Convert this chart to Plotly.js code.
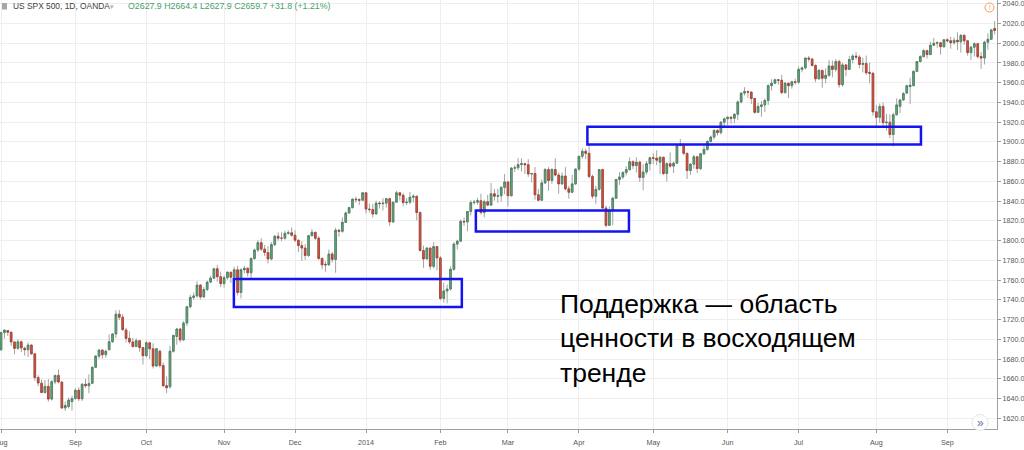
<!DOCTYPE html>
<html>
<head>
<meta charset="utf-8">
<script src="https://cdn.plot.ly/plotly-3.0.1.min.js"></script>
<style>
  html, body { margin: 0; padding: 0; background: #ffffff; }
  #chart { width: 1024px; height: 450px; }
</style>
</head>
<body>
<div id="chart"></div>
<script>
// US SPX 500 daily candles, Aug 2013 – Sep 2014 (OANDA CFD sessions)
const firstSession = '2013-08-01';
const lastSession = '2014-09-19';
const closedDays = ['2013-12-25', '2014-01-01'];
const monthLabels = ['Aug', 'Sep', 'Oct', 'Nov', 'Dec', '2014', 'Feb', 'Mar', 'Apr', 'May', 'Jun', 'Jul', 'Aug', 'Sep'];
const priceTicks = [1620, 1640, 1660, 1680, 1700, 1720, 1740, 1760, 1780, 1800, 1820, 1840, 1860, 1880, 1900, 1920, 1940, 1960, 1980, 2000, 2020, 2040];

const open = [
  // Aug 2013
  1689.5,1706.9,1708.9,1707.2,1697.4,1690.9,1697.5,1691.0,1689.5,1694.2,1685.4,1661.3,1655.5,1646.1,1652.4,1639.5,1657.0,1663.5,1656.8,1630.5,1632.0,1637.0,
  // Sep 2013
  1640.0,1648.5,1639.8,1654.5,1653.0,1655.5,1671.7,1683.0,1689.1,1684.5,1689.5,1697.6,1705.5,1725.5,1722.5,1709.5,1701.0,1697.4,1692.8,1698.7,1691.7,
  // Oct 2013
  1683.5,1696.5,1690.5,1673.0,1688.0,1673.5,1653.0,1652.0,1688.0,1703.0,1710.5,1699.5,1716.5,1733.0,1742.5,1744.0,1755.0,1743.0,1750.5,1758.0,1762.0,1771.5,1763.5,
  // Nov 2013
  1756.5,1762.5,1768.0,1763.0,1770.5,1747.5,1770.5,1772.0,1767.5,1782.0,1790.5,1798.0,1791.5,1788.0,1781.5,1796.0,1804.5,1802.5,1802.5,1807.5,1808.0,
  // Dec 2013
  1805.5,1800.5,1795.0,1792.5,1785.0,1805.0,1808.5,1802.5,1782.0,1776.0,1775.5,1786.5,1781.0,1810.5,1809.5,1818.5,1828.0,1833.5,1842.0,1841.5,1841.0,
  // Jan 2014
  1848.5,1832.0,1831.5,1827.0,1838.0,1837.5,1838.0,1842.5,1819.0,1839.0,1848.5,1846.0,1838.5,1839.0,1844.0,1845.0,1828.5,1790.0,1781.5,1792.5,1774.0,1794.0,
  // Feb 2014
  1782.5,1741.5,1749.0,1751.0,1771.0,1796.5,1799.5,1819.5,1819.0,1829.5,1838.5,1839.0,1840.5,1828.5,1839.5,1836.0,1847.5,1845.0,1845.5,1854.0,
  // Mar 2014
  1859.5,1845.5,1873.5,1873.8,1877.0,1878.0,1877.0,1867.5,1868.0,1846.5,1841.0,1858.5,1872.0,1861.0,1872.0,1866.5,1857.5,1865.5,1852.5,1849.0,1857.5,
  // Apr 2014
  1872.5,1885.5,1890.5,1888.5,1865.0,1845.0,1852.0,1872.0,1833.0,1815.5,1830.5,1843.0,1862.0,1864.5,1869.0,1872.0,1880.0,1876.0,1879.5,1864.0,1869.5,1878.0,
  // May 2014
  1884.0,1883.5,1879.5,1884.5,1868.0,1878.0,1875.5,1878.5,1896.5,1897.5,1888.5,1871.0,1877.5,1885.0,1873.0,1888.0,1892.5,1900.5,1905.0,1911.5,1909.5,1920.0,
  // Jun 2014
  1923.5,1925.0,1924.0,1928.0,1940.5,1949.5,1951.0,1950.5,1944.0,1930.0,1936.0,1937.5,1942.0,1957.0,1959.5,1963.0,1962.5,1950.0,1959.5,1957.0,1961.0,
  // Jul 2014
  1960.5,1973.5,1975.0,1985.0,1984.0,1977.5,1964.0,1972.5,1964.5,1967.5,1977.0,1973.5,1981.5,1958.0,1978.0,1973.5,1983.5,1987.0,1986.0,1978.5,1979.5,1970.5,1969.5,
  // Aug 2014
  1930.5,1925.0,1936.0,1919.5,1920.0,1907.5,1927.5,1936.0,1942.5,1949.5,1956.0,1957.0,1971.5,1981.5,1986.5,1992.5,1988.5,1998.0,2000.0,2000.5,1996.5,
  // Sep 2014
  2003.5,2002.5,2000.5,2003.0,2001.5,2008.0,2002.5,1990.5,1996.0,1999.5,1986.5,1985.0,2001.0,2004.0,2015.0
];

const high = [
  1707.8,1709.9,1709.2,1708.0,1697.5,1700.2,1699.0,1692.5,1696.8,1695.0,1685.5,1663.6,1659.2,1658.9,1659.7,1659.0,1664.0,1669.5,1656.8,1637.0,1641.0,1643.0,
  1650.5,1651.5,1655.7,1660.0,1664.5,1672.5,1684.1,1689.9,1690.0,1689.5,1704.9,1706.5,1729.4,1729.9,1725.5,1711.5,1708.0,1701.5,1701.0,1698.7,1691.9,
  1698.5,1697.5,1696.0,1691.0,1689.5,1676.5,1662.5,1693.5,1704.5,1711.5,1711.5,1718.5,1734.0,1745.0,1747.5,1759.0,1756.0,1753.0,1759.5,1764.5,1772.5,1775.5,1768.5,
  1765.0,1769.0,1768.5,1773.5,1774.5,1772.0,1774.5,1773.0,1783.0,1792.0,1800.5,1802.5,1795.5,1794.5,1798.5,1805.5,1808.5,1808.5,1810.0,1810.5,1813.5,
  1810.5,1801.0,1799.5,1796.5,1806.0,1811.5,1808.5,1804.5,1783.0,1779.0,1791.0,1788.5,1813.0,1812.0,1823.5,1829.5,1834.0,1843.0,1844.5,1843.0,1849.5,
  1849.0,1837.5,1837.0,1840.5,1840.0,1843.0,1843.5,1843.5,1839.5,1850.5,1849.0,1848.0,1843.0,1849.5,1847.0,1845.5,1829.5,1795.0,1793.5,1793.0,1798.5,1794.5,
  1784.5,1757.5,1755.5,1774.0,1798.5,1801.0,1821.5,1823.5,1830.0,1841.0,1841.5,1843.5,1847.5,1841.5,1846.5,1858.5,1852.5,1852.5,1855.0,1867.5,
  1860.0,1874.5,1876.5,1883.5,1883.5,1878.5,1882.5,1868.5,1874.5,1852.5,1862.0,1873.5,1874.5,1873.5,1883.5,1869.0,1869.0,1874.5,1855.5,1866.5,1873.0,
  1885.5,1893.5,1893.0,1897.5,1867.0,1855.5,1872.5,1873.0,1835.5,1834.5,1844.5,1862.5,1869.5,1870.5,1875.5,1884.5,1881.5,1884.5,1881.0,1877.5,1880.5,1885.0,
  1888.5,1891.5,1885.5,1885.0,1879.5,1889.5,1880.0,1897.0,1903.0,1898.5,1889.0,1878.5,1887.0,1886.0,1888.5,1896.0,1901.5,1906.5,1913.0,1913.0,1921.0,1924.5,
  1926.0,1926.5,1929.0,1942.0,1950.0,1955.5,1952.0,1951.0,1944.5,1939.5,1941.5,1944.0,1958.5,1963.5,1964.0,1963.5,1968.0,1961.0,1960.0,1962.0,1964.0,
  1976.5,1976.5,1985.5,1987.0,1985.0,1978.5,1974.0,1973.0,1974.5,1983.0,1982.5,1984.0,1983.5,1980.0,1979.0,1987.0,1989.0,1991.0,1988.0,1985.5,1987.5,1980.5,1971.0,
  1937.5,1939.0,1940.0,1928.5,1928.0,1929.5,1944.0,1943.5,1950.5,1958.0,1965.0,1972.5,1982.0,1988.0,1994.0,1993.5,2001.5,2005.5,2002.0,2000.5,2004.0,
  2005.0,2006.5,2006.0,2011.0,2009.0,2009.0,2003.5,1997.5,2001.0,2000.5,1991.0,2002.5,2010.0,2014.5,2022.5
];

const low = [
  1688.5,1700.7,1703.5,1693.6,1684.9,1689.5,1686.9,1683.5,1682.2,1684.5,1658.0,1652.6,1645.8,1645.4,1637.0,1638.0,1654.5,1655.5,1629.5,1627.5,1630.0,1627.8,
  1639.0,1637.5,1637.5,1651.0,1645.5,1655.0,1671.0,1680.5,1680.5,1681.5,1689.0,1696.5,1701.5,1719.5,1708.5,1697.0,1695.5,1691.5,1692.0,1687.5,1674.5,
  1681.5,1680.0,1670.5,1672.0,1671.5,1652.0,1645.5,1650.0,1686.5,1694.5,1697.0,1698.5,1713.5,1731.5,1740.0,1742.5,1740.5,1742.0,1749.0,1757.0,1761.0,1758.5,1753.0,
  1752.5,1760.5,1757.0,1761.5,1744.5,1741.5,1767.0,1763.5,1760.5,1780.5,1788.5,1789.5,1784.5,1777.0,1780.0,1794.5,1800.0,1799.5,1801.0,1806.0,1804.0,
  1798.5,1788.5,1779.5,1780.5,1783.5,1804.5,1800.5,1780.5,1771.0,1768.5,1774.5,1778.0,1767.5,1804.0,1808.0,1818.0,1827.5,1832.5,1838.5,1836.0,1840.5,
  1827.5,1828.5,1823.5,1826.5,1832.5,1830.5,1833.5,1815.0,1818.0,1838.5,1840.5,1835.0,1836.0,1837.0,1838.5,1820.5,1789.0,1772.5,1781.0,1770.5,1772.0,1770.0,
  1739.5,1737.5,1736.5,1749.5,1769.5,1791.0,1798.5,1815.0,1809.5,1825.5,1836.5,1836.5,1826.5,1823.5,1835.0,1835.5,1840.5,1838.5,1839.5,1847.0,
  1834.5,1845.0,1869.5,1871.5,1870.0,1867.5,1864.5,1859.0,1841.5,1839.5,1840.5,1857.5,1850.5,1857.5,1865.0,1847.5,1856.5,1851.0,1842.5,1848.5,1856.5,
  1870.5,1883.0,1882.5,1863.0,1842.5,1837.0,1850.5,1831.5,1813.5,1815.0,1815.5,1842.5,1856.5,1862.5,1866.0,1871.0,1872.5,1869.0,1859.5,1851.0,1867.0,1871.0,
  1877.5,1876.5,1867.5,1866.5,1860.0,1874.0,1868.5,1878.0,1895.5,1886.5,1862.5,1866.5,1873.0,1868.5,1871.5,1886.5,1891.0,1899.5,1902.5,1906.5,1907.5,1915.5,
  1917.0,1918.5,1919.0,1922.0,1939.0,1947.0,1944.5,1938.5,1928.5,1929.5,1925.5,1930.5,1937.5,1952.0,1958.5,1958.0,1948.5,1949.0,1944.5,1954.0,1958.0,
  1959.0,1970.5,1973.5,1981.5,1976.5,1960.5,1963.0,1955.0,1959.5,1966.0,1965.5,1971.0,1955.0,1956.0,1966.5,1973.0,1979.5,1983.5,1974.5,1970.5,1968.0,1959.5,1926.5,
  1916.0,1919.5,1914.0,1911.5,1904.0,1895.5,1927.0,1929.0,1941.5,1948.5,1938.5,1956.5,1971.0,1980.5,1985.5,1984.5,1988.0,1997.0,1995.5,1988.5,1995.5,
  2001.0,1994.5,1998.5,1993.0,1990.5,1998.5,1987.5,1983.0,1986.5,1984.5,1974.0,1978.5,1993.5,2003.5,2009.0
];

const close = [
  1706.9,1709.4,1707.2,1697.4,1690.9,1697.5,1691.4,1689.5,1694.2,1685.4,1661.3,1655.8,1646.1,1652.4,1639.5,1657.0,1663.5,1656.8,1630.5,1633.0,1638.5,1640.0,
  1648.5,1639.8,1654.5,1653.0,1655.2,1671.7,1683.0,1689.1,1684.5,1688.0,1697.6,1705.5,1725.5,1722.5,1709.9,1701.0,1697.4,1692.8,1698.7,1691.7,1683.5,
  1696.5,1690.5,1673.0,1690.5,1673.5,1653.0,1651.0,1688.0,1704.0,1710.5,1699.5,1716.5,1733.0,1742.5,1744.0,1755.0,1743.0,1750.5,1758.0,1762.0,1771.5,1763.5,1756.5,
  1762.5,1768.0,1763.0,1770.5,1747.5,1770.5,1772.0,1767.5,1782.0,1790.5,1798.0,1791.5,1788.0,1781.5,1796.0,1804.5,1802.5,1802.5,1807.5,1808.0,1805.5,
  1800.5,1795.0,1792.5,1785.0,1805.0,1808.5,1802.5,1782.0,1775.5,1775.5,1786.5,1781.0,1810.5,1809.5,1818.5,1828.0,1833.5,1842.0,1841.5,1841.0,1848.5,
  1832.0,1831.5,1827.0,1838.0,1837.5,1838.0,1842.5,1819.0,1839.0,1848.5,1846.0,1838.5,1839.0,1844.0,1845.0,1828.5,1790.0,1781.5,1792.5,1774.0,1794.0,1782.5,
  1741.5,1749.0,1751.0,1771.0,1796.5,1799.5,1819.5,1819.0,1829.5,1838.5,1839.0,1840.5,1828.5,1839.5,1836.0,1847.5,1845.0,1845.5,1854.0,1859.5,
  1845.5,1873.5,1873.8,1877.0,1878.0,1877.0,1867.5,1868.0,1846.5,1841.0,1858.5,1872.0,1861.0,1872.0,1866.5,1857.5,1865.5,1852.5,1849.0,1857.5,1872.5,
  1885.5,1890.5,1888.5,1865.0,1845.0,1852.0,1872.0,1833.0,1815.5,1830.5,1843.0,1862.0,1864.5,1869.0,1872.0,1880.0,1876.0,1879.5,1864.0,1869.5,1878.0,1884.0,
  1883.5,1881.5,1884.5,1868.0,1878.0,1875.5,1878.5,1896.5,1897.5,1888.5,1871.0,1877.5,1885.0,1873.0,1888.0,1892.5,1900.5,1905.0,1911.5,1909.5,1920.0,1923.5,
  1925.0,1924.0,1928.0,1940.5,1949.5,1951.0,1950.5,1944.0,1930.0,1936.0,1937.5,1942.0,1957.0,1959.5,1963.0,1962.5,1950.0,1959.5,1957.0,1961.0,1960.5,
  1973.5,1975.0,1985.0,1984.0,1977.5,1964.0,1972.5,1964.5,1967.5,1977.0,1973.5,1981.5,1958.0,1978.0,1973.5,1983.5,1987.0,1986.0,1978.5,1979.5,1970.0,1969.5,1930.5,
  1925.0,1936.0,1919.5,1920.0,1907.5,1927.5,1937.5,1942.5,1949.0,1957.0,1957.5,1971.5,1981.5,1986.5,1992.5,1988.5,1998.0,2000.0,2000.5,1996.5,2003.5,
  2002.5,2000.5,2003.0,2001.5,2008.0,2002.5,1990.5,1996.0,1999.5,1986.5,1985.0,2001.0,2004.0,2013.5,2013.0
];

// Support zones: session span and price band
const zoneFrom = ['2013-11-05 21:36', '2014-02-17 12:00', '2014-04-03 12:00'];
const zoneTo   = ['2014-02-11 08:24', '2014-04-21 19:12', '2014-08-20 04:48'];
const zoneLow  = [1732.8, 1809.3, 1897.3];
const zoneHigh = [1761.2, 1830.6, 1915.5];

const headerTitle = 'US SPX 500, 1D, OANDA';
const headerQuote = 'O2627.9 H2664.4 L2627.9 C2659.7 +31.8 (+1.21%)';
const noteText = 'Поддержка — область<br>ценности в восходящем<br>тренде';

// Trading sessions: weekdays without the closed holidays
const sessions = [];
for (let t = Date.parse(firstSession + 'T00:00:00Z'); t <= Date.parse(lastSession + 'T00:00:00Z'); t += 86400000) {
  const d = new Date(t);
  const wd = d.getUTCDay();
  const s = d.toISOString().slice(0, 10);
  if (wd === 0 || wd === 6 || closedDays.includes(s)) continue;
  sessions.push(s);
}
const monthStarts = sessions.filter((s, i) => i === 0 || s.slice(0, 7) !== sessions[i - 1].slice(0, 7));

const bodyTop = open.map((o, i) => Math.max(o, close[i]));
const bodyBottom = open.map((o, i) => Math.min(o, close[i]));

const W = 1024, H = 450;
const M = { l: 0, r: 27, t: 0, b: 21 };
const PW = W - M.l - M.r, PH = H - M.t - M.b;
const px = x => x / PW;
const py = y => 1 - y / PH;

const wicks = {
  type: 'candlestick', x: sessions, open: open, high: high, low: low, close: close,
  increasing: { line: { color: '#a3a3a3', width: 1 }, fillcolor: '#a3a3a3' },
  decreasing: { line: { color: '#a3a3a3', width: 1 }, fillcolor: '#a3a3a3' },
  whiskerwidth: 0, hoverinfo: 'skip', showlegend: false
};
const bodies = {
  type: 'candlestick', x: sessions, open: open, high: bodyTop, low: bodyBottom, close: close,
  increasing: { line: { color: '#3f7d58', width: 0.7 }, fillcolor: '#6ba583' },
  decreasing: { line: { color: '#a5392b', width: 0.7 }, fillcolor: '#d75442' },
  whiskerwidth: 0, hoverinfo: 'skip', showlegend: false
};

const shapes = zoneFrom.map((x0, i) => ({
  type: 'rect', xref: 'x', yref: 'y', x0: x0, x1: zoneTo[i], y0: zoneLow[i], y1: zoneHigh[i],
  line: { color: '#1414f0', width: 2.5 }, fillcolor: 'rgba(0,0,0,0)'
}));
// small series icon in the header
shapes.push({ type: 'rect', xref: 'paper', yref: 'paper', x0: px(2), x1: px(7), y0: py(9.5), y1: py(3),
  line: { width: 0 }, fillcolor: '#a2a6ae' });
// warning badge, top right
shapes.push({ type: 'circle', xref: 'paper', yref: 'paper', x0: px(985), x1: px(994), y0: py(12), y1: py(3),
  line: { color: '#f59d55', width: 1 }, fillcolor: 'rgba(0,0,0,0)' });
// scroll button, bottom right
shapes.push({ type: 'circle', xref: 'paper', yref: 'paper', x0: px(972), x1: px(988), y0: py(430.5), y1: py(414.5),
  line: { color: '#e3e5ea', width: 1 }, fillcolor: '#ffffff' });

const sans = '"Liberation Sans", Arial, sans-serif';
const annotations = [
  { xref: 'paper', yref: 'paper', x: px(10.5), y: py(6.5), xanchor: 'left', yanchor: 'middle', showarrow: false,
    text: headerTitle, font: { family: sans, size: 8.4, color: '#3e3e3e' } },
  { xref: 'paper', yref: 'paper', x: px(108), y: py(6.5), xanchor: 'left', yanchor: 'middle', showarrow: false,
    text: '▾', font: { family: sans, size: 7, color: '#b0b0b0' } },
  { xref: 'paper', yref: 'paper', x: px(125.5), y: py(6.5), xanchor: 'left', yanchor: 'middle', showarrow: false,
    text: headerQuote, font: { family: sans, size: 8.8, color: '#45a06b' } },
  { xref: 'paper', yref: 'paper', x: px(989.5), y: py(7.5), xanchor: 'center', yanchor: 'middle', showarrow: false,
    text: '!', font: { family: sans, size: 7, color: '#f59d55' } },
  { xref: 'paper', yref: 'paper', x: px(980), y: py(422.5), xanchor: 'center', yanchor: 'middle', showarrow: false,
    text: '»', font: { family: sans, size: 12, color: '#6577b0' } },
  { xref: 'paper', yref: 'paper', x: px(557.5), y: py(287), xanchor: 'left', yanchor: 'top', align: 'left', showarrow: false,
    text: noteText, font: { family: sans, size: 26.5, color: '#000000' } }
];

const layout = {
  width: W, height: H, margin: M,
  paper_bgcolor: '#ffffff', plot_bgcolor: '#ffffff', showlegend: false,
  font: { family: sans, size: 7.2, color: '#555555' },
  xaxis: {
    type: 'date',
    rangebreaks: [{ bounds: ['sat', 'mon'] }, { values: closedDays }],
    range: ['2013-07-31 16:48', '2014-09-19 16:48'],
    rangeslider: { visible: false },
    tickmode: 'array', tickvals: monthStarts, ticktext: monthLabels,
    ticks: 'outside', ticklen: 3, tickcolor: '#9a9a9a', ticklabelstandoff: 3,
    ticklabeloverflow: 'allow',
    tickfont: { family: sans, size: 7.2, color: '#555555' },
    showgrid: true, gridcolor: '#eeeeee', gridwidth: 1,
    showline: true, linecolor: '#a0a0a0', linewidth: 1, zeroline: false, fixedrange: true
  },
  yaxis: {
    side: 'right', range: [1609.2, 2043.8],
    tickmode: 'array', tickvals: priceTicks, ticktext: priceTicks.map(v => v.toFixed(1)),
    ticks: 'outside', ticklen: 3, tickcolor: '#9a9a9a',
    ticklabeloverflow: 'allow',
    tickfont: { family: sans, size: 7.2, color: '#555555' },
    showgrid: true, gridcolor: '#eeeeee', gridwidth: 1,
    showline: true, linecolor: '#a0a0a0', linewidth: 1, zeroline: false, fixedrange: true
  },
  shapes: shapes,
  annotations: annotations
};

Plotly.newPlot('chart', [wicks, bodies], layout, { staticPlot: true, displayModeBar: false });
</script>
</body>
</html>
